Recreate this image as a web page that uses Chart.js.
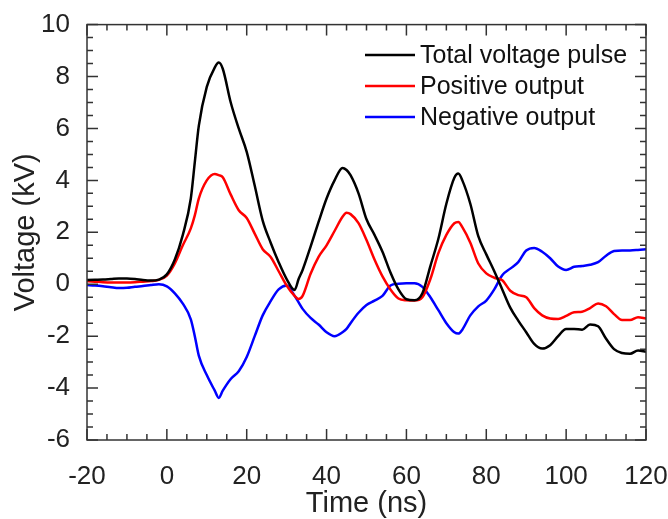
<!DOCTYPE html>
<html>
<head>
<meta charset="utf-8">
<script src="https://cdn.jsdelivr.net/npm/chart.js@4.4.0/dist/chart.umd.min.js"></script>
<style>
  body { margin: 0; background: #fff; }
</style>
</head>
<body>
<canvas id="myChart" width="668" height="519"></canvas>
<script>
// time in ns, voltages in kV
const times = [-20,-18,-16,-14,-12,-10,-8,-6,-4,-2,0,
  2,4,6,7,8,10,12,13,14,
  16,18,20,22,24,26,28,30,32,
  33,34,
  36,38,40,42,44,
  45,
  46,48,50,52,54,56,58,60,62,64,66,68,70,72,
  73,
  74,76,78,80,82,84,86,88,90,92,94,96,98,100,102,104,106,108,110,112,114,116,118,120];

const totalPulse = [0.16,0.17,0.18,0.2,0.22,0.22,0.2,0.16,0.14,0.18,0.38,
  0.95,1.9,3.3,4.7,6.1,7.6,8.35,8.54,8.3,
  7.0,6.0,5.1,3.8,2.45,1.6,0.85,0.2,-0.22,
  0.2,0.55,
  1.45,2.4,3.3,4.0,4.48,
  4.4,
  4.2,3.5,2.5,1.9,1.25,0.45,-0.2,-0.58,-0.62,-0.35,0.7,1.75,3.1,4.1,
  4.26,
  4.0,3.1,1.85,1.15,0.5,-0.2,-0.9,-1.4,-1.85,-2.3,-2.48,-2.35,-2.0,-1.72,-1.72,-1.75,-1.55,-1.62,-2.1,-2.5,-2.65,-2.68,-2.55,-2.6];

const positiveOut = [0.12,0.1,0.08,0.07,0.07,0.07,0.08,0.1,0.12,0.17,0.33,
  0.8,1.5,2.15,2.65,3.3,4.0,4.25,4.2,4.12,
  3.45,2.85,2.55,1.95,1.35,1.05,0.5,-0.05,-0.45,
  -0.57,-0.45,
  0.4,1.05,1.5,2.05,2.6,
  2.75,
  2.7,2.35,1.7,0.95,0.3,-0.2,-0.55,-0.62,-0.63,-0.5,0.2,1.2,1.9,2.35,
  2.4,
  2.2,1.6,0.8,0.42,0.25,0.15,-0.25,-0.42,-0.5,-0.92,-1.2,-1.32,-1.34,-1.22,-1.08,-1.06,-0.92,-0.74,-0.85,-1.15,-1.38,-1.38,-1.27,-1.32];

const negativeOut = [-0.03,-0.05,-0.08,-0.12,-0.15,-0.14,-0.1,-0.07,-0.03,0.0,-0.08,
  -0.35,-0.75,-1.35,-2.0,-2.75,-3.5,-4.1,-4.38,-4.1,
  -3.65,-3.35,-2.8,-2.0,-1.2,-0.65,-0.2,-0.05,-0.45,
  -0.7,-0.95,
  -1.3,-1.55,-1.85,-2.0,-1.85,
  -1.72,
  -1.5,-1.1,-0.8,-0.63,-0.45,-0.05,0.02,0.04,0.04,-0.1,-0.5,-1.0,-1.5,-1.85,
  -1.9,
  -1.75,-1.2,-0.85,-0.63,-0.2,0.35,0.6,0.85,1.3,1.4,1.25,1.0,0.68,0.55,0.67,0.7,0.75,0.85,1.1,1.28,1.3,1.3,1.32,1.35];

const seriesNames = ['Total voltage pulse', 'Positive output', 'Negative output'];
const seriesColors = ['#000000', '#ff0000', '#0000ff'];

const FONT = "'Liberation Sans', Arial, sans-serif";

function toPoints(vals) {
  return times.map((t, i) => ({x: t, y: vals[i]}));
}

// box round the plot, inward ticks on all four sides, and the legend
const framePlugin = {
  id: 'frame',
  afterDatasetsDraw(chart) {
    const {ctx, chartArea: a, scales: {x, y}} = chart;
    ctx.save();
    ctx.strokeStyle = '#333';
    ctx.lineWidth = 1.5;
    ctx.strokeRect(a.left, a.top, a.right - a.left, a.bottom - a.top);
    ctx.beginPath();
    for (let t = -20; t <= 120; t += 5) {
      const px = x.getPixelForValue(t);
      const len = t % 20 === 0 ? 11 : 6;
      ctx.moveTo(px, a.bottom); ctx.lineTo(px, a.bottom - len);
      ctx.moveTo(px, a.top); ctx.lineTo(px, a.top + len);
    }
    for (let v = -6; v <= 10; v += 0.5) {
      const py = y.getPixelForValue(v);
      const len = v % 2 === 0 ? 11 : 6;
      ctx.moveTo(a.left, py); ctx.lineTo(a.left + len, py);
      ctx.moveTo(a.right, py); ctx.lineTo(a.right - len, py);
    }
    ctx.stroke();

    // legend
    ctx.font = '25px ' + FONT;
    ctx.textBaseline = 'middle';
    ctx.fillStyle = '#111';
    ctx.lineWidth = 2.5;
    const rows = [55, 86, 117];
    seriesNames.forEach((name, i) => {
      ctx.strokeStyle = seriesColors[i];
      ctx.beginPath();
      ctx.moveTo(365, rows[i]);
      ctx.lineTo(415, rows[i]);
      ctx.stroke();
      ctx.fillText(name, 420, rows[i] + 1);
    });
    ctx.restore();
  }
};

const ctx = document.getElementById('myChart');
const myChart = new Chart(ctx, {
  type: 'line',
  data: {
    datasets: [totalPulse, positiveOut, negativeOut].map((vals, i) => ({
      label: seriesNames[i],
      data: toPoints(vals),
      borderColor: seriesColors[i],
      borderWidth: 2.5,
      pointRadius: 0,
      cubicInterpolationMode: 'monotone',
      fill: false
    }))
  },
  options: {
    responsive: false,
    animation: false,
    layout: { padding: { top: 23, right: 22, left: 0, bottom: 0 } },
    plugins: { legend: { display: false }, tooltip: { enabled: false } },
    scales: {
      x: {
        type: 'linear',
        min: -20,
        max: 120,
        ticks: { stepSize: 20, padding: 13, color: '#222', font: { family: FONT, size: 26 } },
        grid: { display: false },
        border: { display: false },
        title: { display: true, text: 'Time (ns)', color: '#222',
          font: { family: FONT, size: 29, lineHeight: 1 }, padding: { top: 0, bottom: 1 } },
        afterFit: (scale) => {
          scale.height = 79;
          scale.paddingLeft = 0;
          scale.paddingRight = 0;
        }
      },
      y: {
        min: -6,
        max: 10,
        ticks: { stepSize: 2, padding: 9, color: '#222', font: { family: FONT, size: 26 } },
        grid: { display: false },
        border: { display: false },
        title: { display: true, text: 'Voltage (kV)', color: '#222',
          font: { family: FONT, size: 29, lineHeight: 1 }, padding: { top: 11, bottom: 0 } },
        afterFit: (scale) => { scale.width = 87; }
      }
    }
  },
  plugins: [framePlugin]
});
</script>
</body>
</html>
